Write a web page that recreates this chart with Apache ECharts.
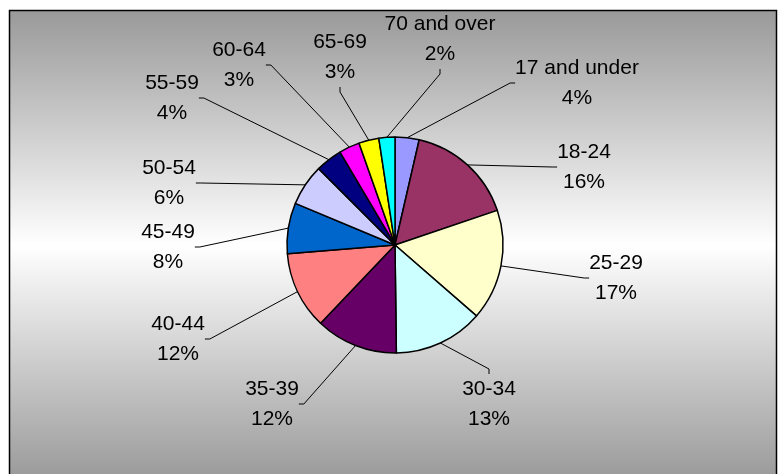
<!DOCTYPE html>
<html>
<head>
<meta charset="utf-8">
<script src="https://cdn.jsdelivr.net/npm/echarts@6/dist/echarts.min.js"></script>
<style>
html,body{margin:0;padding:0;background:#fff;}
#chart{width:781px;height:474px;}
</style>
</head>
<body>
<div id="chart"></div>
<script>
var categories = ['17 and under','18-24','25-29','30-34','35-39','40-44','45-49','50-54','55-59','60-64','65-69','70 and over'];
var values = [3.6,16.2,16.6,13.4,12.3,11.6,7.6,6.2,4.0,3.1,3.0,2.4];
var colors = ['#9999FF','#993366','#FFFFCC','#CCFFFF','#660066','#FF8080','#0066CC','#CCCCFF','#000080','#FF00FF','#FFFF00','#00FFFF'];
// label block centres (presentation only)
var labelPos = [[577,83],[584,167],[616,278],[489,404],[272,404],[178,339],[168,247],[169,183],[172,98],[239,65],[340,57],[440,39]];

var chart = echarts.init(document.getElementById('chart'), null, {renderer:'canvas'});
var data = categories.map(function(c,i){ return {name:c, value:values[i], itemStyle:{color:colors[i]}}; });
chart.setOption({
  animation:false,
  backgroundColor:'#ffffff',
  graphic:[{
    type:'rect', z:-10, silent:true,
    shape:{x:9.5,y:10.5,width:767,height:470},
    style:{
      fill:new echarts.graphic.LinearGradient(0,0,0,1,[
        {offset:0,color:'#999999'},{offset:0.5,color:'#ffffff'},{offset:1,color:'#999999'}
      ]),
      stroke:'#000000', lineWidth:1.5
    }
  }],
  series:[{
    type:'pie',
    center:[395,245],
    radius:[0,108],
    startAngle:90,
    clockwise:true,
    data:data,
    itemStyle:{borderColor:'#000000',borderWidth:1.5},
    label:{
      show:true, position:'outside',
      fontFamily:'Liberation Sans, Arial, sans-serif', fontSize:21, color:'#000000',
      lineHeight:30, align:'center',
      formatter:function(p){ return p.name + '\n' + Math.round(p.percent) + '%'; }
    },
    labelLine:{show:true, lineStyle:{color:'#000000',width:1}, length:10, length2:5},
    labelLayout:function(params){
      var p = labelPos[params.dataIndex];
      return {x:p[0], y:p[1], align:'center', verticalAlign:'middle'};
    },
    emphasis:{disabled:true}
  }]
});
</script>
</body>
</html>
